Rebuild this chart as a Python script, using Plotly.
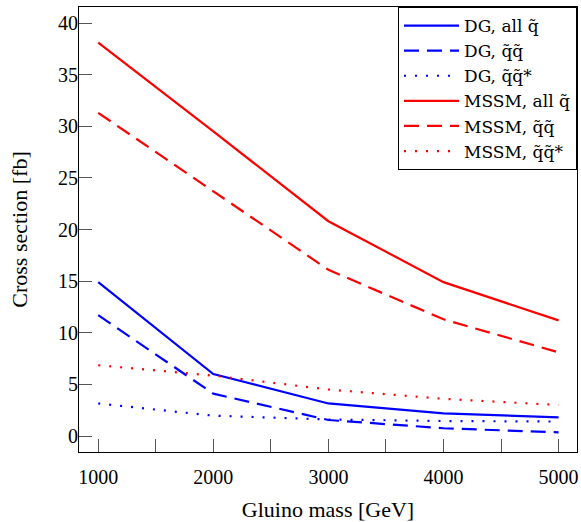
import plotly.graph_objects as go

masses = [1000, 2000, 3000, 4000, 5000]
dg_all = [14.9, 6.0, 3.15, 2.2, 1.8]
dg_qq = [11.7, 4.1, 1.55, 0.75, 0.35]
dg_qqbar = [3.15, 1.97, 1.6, 1.45, 1.4]
mssm_all = [38.1, 29.5, 20.8, 14.9, 11.2]
mssm_qq = [31.3, 23.7, 16.1, 11.3, 8.1]
mssm_qqbar = [6.85, 5.85, 4.5, 3.6, 3.0]

series = [
    ("DG, all q\u0303", dg_all, "#0000ff", "solid"),
    ("DG, q\u0303q\u0303", dg_qq, "#0000ff", "15px,8px"),
    ("DG, q\u0303q\u0303*", dg_qqbar, "#0000ff", "2px,9px"),
    ("MSSM, all q\u0303", mssm_all, "#ff0000", "solid"),
    ("MSSM, q\u0303q\u0303", mssm_qq, "#ff0000", "15px,8px"),
    ("MSSM, q\u0303q\u0303*", mssm_qqbar, "#ff0000", "2px,9px"),
]

fig = go.Figure()
for name, ys, col, dash in series:
    fig.add_trace(go.Scatter(x=masses, y=ys, mode="lines", name=name,
                             line=dict(color=col, width=2.2, dash=dash)))

xtickvals = [1000, 1500, 2000, 2500, 3000, 3500, 4000, 4500, 5000]
xticktext = ["1000", "", "2000", "", "3000", "", "4000", "", "5000"]
ytickvals = [0, 5, 10, 15, 20, 25, 30, 35, 40]

font_family = "Liberation Serif, DejaVu Serif, serif"
fig.update_layout(
    width=581, height=522,
    margin=dict(l=79, r=4, t=7, b=70, autoexpand=False),
    paper_bgcolor="white", plot_bgcolor="white",
    font=dict(family=font_family, size=20, color="black"),
    showlegend=True,
    legend=dict(x=1, y=1, xanchor="right", yanchor="top",
                bordercolor="black", borderwidth=1, bgcolor="white",
                font=dict(size=17, family="DejaVu Serif, serif"),
                tracegroupgap=0, itemwidth=55),
    xaxis=dict(range=[833, 5160], tickvals=xtickvals, ticktext=xticktext,
               ticks="inside", ticklen=13, tickcolor="#555", tickwidth=1.3,
               ticklabelstandoff=7,
               showgrid=False, zeroline=False, showline=True, mirror=True,
               linecolor="black", linewidth=1, automargin=False,
               title=dict(text="Gluino mass [GeV]", standoff=22,
                          font=dict(size=22))),
    yaxis=dict(range=[-1.55, 41.55], tickvals=ytickvals,
               ticks="inside", ticklen=13, tickcolor="#555", tickwidth=1.3,
               ticklabelstandoff=-4,
               showgrid=False, zeroline=False, showline=True, mirror=True,
               linecolor="black", linewidth=1, automargin=False,
               title=dict(text="Cross section [fb]", standoff=24,
                          font=dict(size=22))),
)

fig.write_html("out.html", config={"displayModeBar": False},
               post_script="document.body.style.margin='0';document.body.style.overflow='hidden';")
